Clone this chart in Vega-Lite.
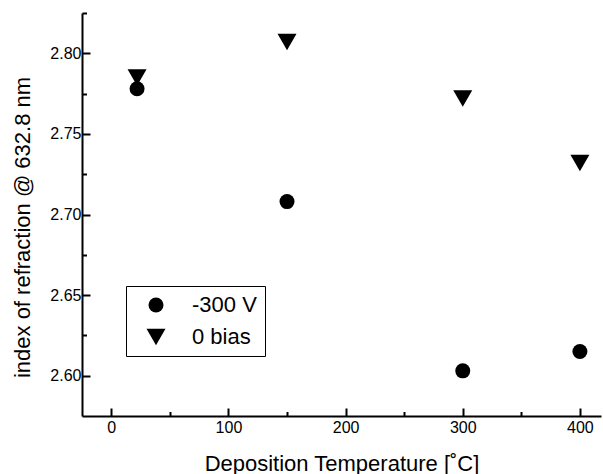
{
  "$schema": "https://vega.github.io/schema/vega-lite/v6.json",
  "width": 519,
  "height": 403,
  "autosize": "none",
  "padding": {"left": 82, "top": 13, "right": 2, "bottom": 58},
  "config": {
    "font": "Liberation Sans",
    "view": {"stroke": null},
    "axis": {"grid": false, "domainColor": "black", "domainWidth": 2, "tickColor": "black", "tickWidth": 2, "labelColor": "black", "titleColor": "black", "labelFontSize": 16, "titleFontSize": 22, "titleFontWeight": "normal"}
  },
  "data": {"values": [
    {"temp": 22, "n": 2.778, "series": "-300 V"},
    {"temp": 150, "n": 2.708, "series": "-300 V"},
    {"temp": 300, "n": 2.603, "series": "-300 V"},
    {"temp": 400, "n": 2.615, "series": "-300 V"},
    {"temp": 22, "n": 2.785, "series": "0 bias"},
    {"temp": 150, "n": 2.807, "series": "0 bias"},
    {"temp": 300, "n": 2.772, "series": "0 bias"},
    {"temp": 400, "n": 2.732, "series": "0 bias"}
  ]},
  "layer": [
    {
      "mark": {"type": "point", "filled": true, "opacity": 1},
      "encoding": {
        "x": {"field": "temp", "type": "quantitative", "scale": {"domain": [-25, 418], "nice": false, "zero": false},
          "axis": {"orient": "bottom", "values": [0, 100, 200, 300, 400], "tickSize": -8, "labelPadding": 11, "title": "Deposition Temperature [˚C]", "titleBaseline": "alphabetic", "titleY": 54}},
        "y": {"field": "n", "type": "quantitative", "scale": {"domain": [2.575, 2.825], "nice": false, "zero": false},
          "axis": {"orient": "left", "values": [2.6, 2.65, 2.7, 2.75, 2.8], "format": ".2f", "tickSize": -8, "labelPadding": 9, "title": "index of refraction  @  632.8 nm", "titleAngle": -90, "titleBaseline": "alphabetic", "titleX": -53, "titleY": 214}},
        "shape": {"field": "series", "type": "nominal", "scale": {"domain": ["-300 V", "0 bias"], "range": ["circle", "triangle-down"]},
          "legend": {"orient": "none", "legendX": 44, "legendY": 273, "title": null, "strokeColor": "black", "fillColor": "white", "padding": 8, "labelFontSize": 22, "labelColor": "black", "symbolOffset": 11, "labelOffset": 25, "rowPadding": 10, "symbolFillColor": "black", "symbolStrokeWidth": 0}},
        "size": {"field": "series", "type": "nominal", "scale": {"domain": ["-300 V", "0 bias"], "range": [225, 361]}},
        "color": {"value": "black"}
      }
    },
    {
      "mark": {"type": "point", "opacity": 0},
      "encoding": {
        "x": {"field": "temp", "type": "quantitative",
          "axis": {"orient": "bottom", "values": [50, 150, 250, 350], "tickSize": -4.5, "labels": false, "domain": false, "title": null}},
        "y": {"field": "n", "type": "quantitative",
          "axis": {"orient": "left", "values": [2.625, 2.675, 2.725, 2.775, 2.825], "tickSize": -4.5, "labels": false, "domain": false, "title": null}}
      }
    }
  ],
  "resolve": {"axis": {"x": "independent", "y": "independent"}}
}
